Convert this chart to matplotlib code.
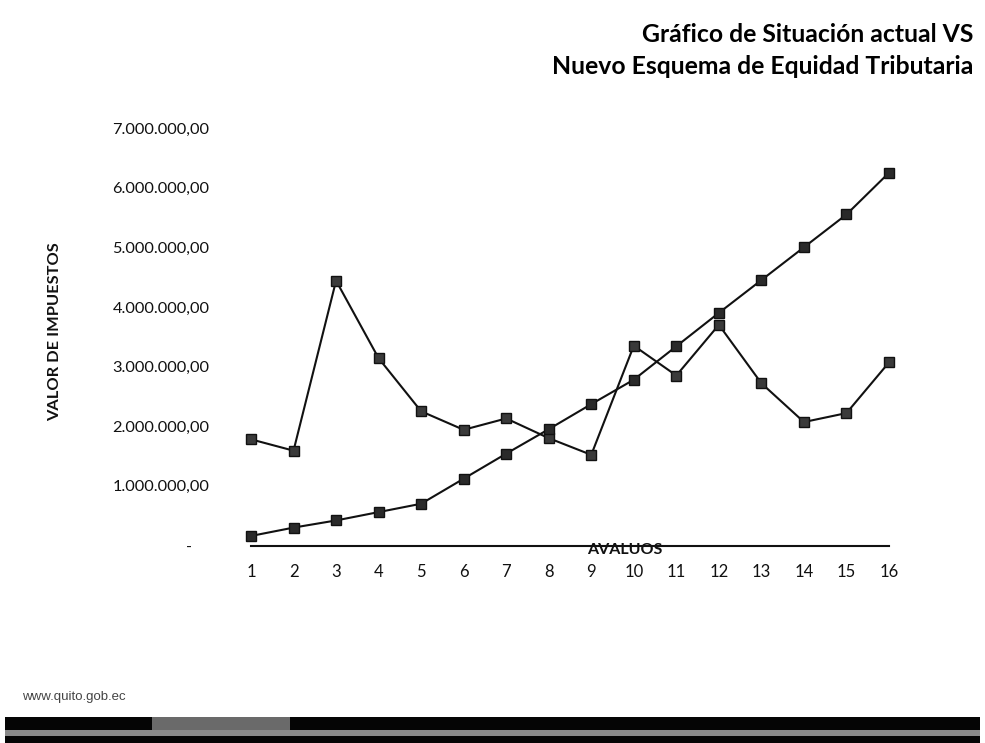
import matplotlib
matplotlib.use("Agg")
import matplotlib.pyplot as plt
from matplotlib.patches import Rectangle

avaluos = list(range(1, 17))
situacion_actual = [1.78e6, 1.59e6, 4.44e6, 3.14e6, 2.25e6, 1.94e6, 2.13e6, 1.80e6,
                    1.52e6, 3.35e6, 2.85e6, 3.70e6, 2.72e6, 2.07e6, 2.22e6, 3.07e6]
nuevo_esquema = [0.16e6, 0.30e6, 0.42e6, 0.56e6, 0.70e6, 1.12e6, 1.54e6, 1.95e6,
                 2.37e6, 2.78e6, 3.34e6, 3.90e6, 4.45e6, 5.00e6, 5.55e6, 6.25e6]
y_ticks = [0, 1e6, 2e6, 3e6, 4e6, 5e6, 6e6, 7e6]
y_ticklabels = ["-    ", "1.000.000,00", "2.000.000,00", "3.000.000,00", "4.000.000,00",
                "5.000.000,00", "6.000.000,00", "7.000.000,00"]

W, H = 985, 743
fig = plt.figure(figsize=(W / 100, H / 100), dpi=100)
fig.patch.set_facecolor("white")
plt.rcParams['font.family'] = ['Lato', 'DejaVu Sans']

left, right = 251, 889
top, bottom = 128, 545.5
ax = fig.add_axes([left / W, 1 - bottom / H, (right - left) / W, (bottom - top) / H])
ax.set_xlim(1, 16)
ax.set_ylim(0, 7e6)
for s in ax.spines.values():
    s.set_visible(False)

ax.plot(avaluos, situacion_actual, color="#111111", lw=1.5, marker="s", ms=6.5,
        mfc="#3a3a3a", mec="#111111", mew=1.0, clip_on=False, zorder=3)
ax.plot(avaluos, nuevo_esquema, color="#111111", lw=1.5, marker="s", ms=6.5,
        mfc="#2a2a2a", mec="#111111", mew=1.0, clip_on=False, zorder=3)
ax.plot([1, 16], [0, 0], color="#111111", lw=1.5, clip_on=False, zorder=2)

ax.set_yticks(y_ticks)
ax.set_yticklabels(y_ticklabels, fontsize=11.8, color="#111111")
ax.tick_params(axis="y", length=0, pad=30)
ax.set_xticks(avaluos)
ax.set_xticklabels([str(a) for a in avaluos], fontsize=12, color="#111111")
ax.tick_params(axis="x", length=0, pad=13)

fig.text(625 / W, 1 - 550 / H, "AVALUOS", fontsize=11.5, fontweight="bold",
         ha="center", va="center", color="#111111")
fig.text(55 / W, 1 - 332 / H, "VALOR DE IMPUESTOS", fontsize=11.8, fontweight="bold",
         ha="center", va="center", rotation=90, color="#111111")

fig.text(973 / W, 1 - 35 / H, "Gráfico de Situación actual VS", fontsize=17.8,
         fontweight="bold", ha="right", va="center", color="#000000")
fig.text(973 / W, 1 - 67 / H, "Nuevo Esquema de Equidad Tributaria", fontsize=17.8,
         fontweight="bold", ha="right", va="center", color="#000000")

fig.text(22 / W, 1 - 697 / H, "www.quito.gob.ec", fontsize=9.5, ha="left", va="center",
         color="#444444", family=["Liberation Sans", "DejaVu Sans"])

# footer bar
fig.add_artist(Rectangle((5 / W, 0), 975 / W, 26 / H, transform=fig.transFigure,
                         facecolor="#050505", edgecolor="none"))
fig.add_artist(Rectangle((152 / W, 1 - 730 / H), 138 / W, 13 / H, transform=fig.transFigure,
                         facecolor="#6a6a6a", edgecolor="none"))
fig.add_artist(Rectangle((5 / W, 1 - 736 / H), 975 / W, 6 / H, transform=fig.transFigure,
                         facecolor="#8a8a8a", edgecolor="none"))

fig.savefig("out.png", dpi=100, facecolor="white")
